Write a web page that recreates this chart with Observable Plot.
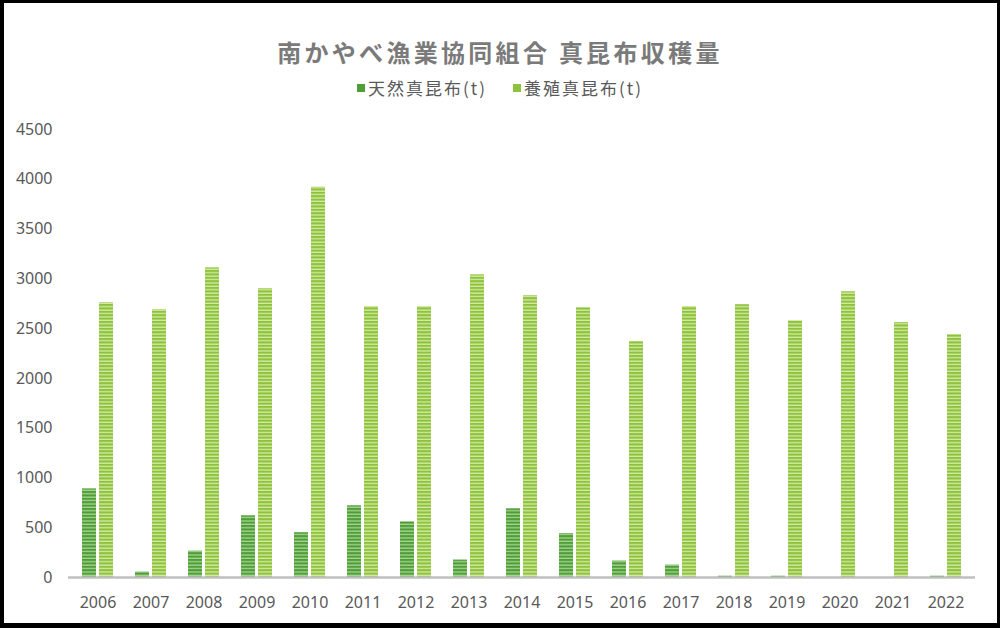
<!DOCTYPE html>
<html>
<head>
<meta charset="utf-8">
<script src="https://cdn.jsdelivr.net/npm/d3@7"></script>
<script src="https://cdn.jsdelivr.net/npm/@observablehq/plot@0.6"></script>
<style>
  html, body { margin: 0; padding: 0; background: #fff; }
  #wrap { position: relative; width: 1000px; height: 628px; background: #fff; overflow: hidden;
          font-family: "Noto Sans", "Noto Sans CJK JP", sans-serif; }
  #title { position: absolute; top: 36px; left: 0; width: 1000px; text-align: center;
           font-size: 24px; line-height: 32px; font-weight: bold; color: #7a7a7a; letter-spacing: 3.3px;
           font-family: "Noto Sans CJK JP", "Noto Sans", sans-serif; }
  #legend { position: absolute; top: 78px; left: 0; width: 1000px; display: flex; justify-content: center;
            gap: 26px; font-size: 17px; line-height: 20px; color: #595959; letter-spacing: 2px;
            font-family: "Noto Sans CJK JP", "Noto Sans", sans-serif; }
  .item { display: flex; align-items: center; }
  .sw { width: 8px; height: 8px; margin-right: 3px; }
  #chart { position: absolute; top: 100px; left: 0; }
  #frame { position: absolute; left: 0; top: 0; width: 1000px; height: 628px; box-sizing: border-box;
           border-style: solid; border-color: #000; border-width: 3px 3px 5px 4px; pointer-events: none; }
</style>
</head>
<body>
<div id="wrap">
  <div id="title">南かやべ漁業協同組合 真昆布収穫量</div>
  <div id="legend"></div>
  <div id="chart"></div>
  <div id="frame"></div>
</div>
<script>
const years = ["2006","2007","2008","2009","2010","2011","2012","2013","2014","2015","2016","2017","2018","2019","2020","2021","2022"];
const natural = [890, 55, 265, 620, 450, 720, 560, 175, 690, 440, 165, 125, 15, 15, 0, 0, 15];
const cultured = [2760, 2690, 3110, 2900, 3920, 2720, 2720, 3040, 2830, 2710, 2370, 2720, 2740, 2580, 2870, 2560, 2440];
const seriesNames = ["天然真昆布(t)", "養殖真昆布(t)"];
const seriesColors = ["#4f9d37", "#8cc23c"];
const yTicks = [0, 500, 1000, 1500, 2000, 2500, 3000, 3500, 4000, 4500];

const natData = years.map((y, i) => ({year: y, value: natural[i]}));
const culData = years.map((y, i) => ({year: y, value: cultured[i]}));

// legend
const legend = document.getElementById("legend");
seriesNames.forEach((n, i) => {
  const it = document.createElement("div");
  it.className = "item";
  it.innerHTML = `<span class="sw" style="background:${seriesColors[i]}"></span><span>${n}</span>`;
  legend.appendChild(it);
});

const chart = Plot.plot({
  width: 1000,
  height: 528,
  marginTop: 29,
  marginBottom: 51,
  marginLeft: 68,
  marginRight: 25,
  style: {fontFamily: "'Noto Sans', 'Noto Sans CJK JP', sans-serif", fontSize: "16px", color: "#595959", background: "transparent"},
  x: {domain: years, paddingInner: 0.41, paddingOuter: 0.205, label: null},
  y: {domain: [0, 4500], label: null},
  marks: [
    Plot.barY(natData, {x: "year", y: "value", fill: "url(#patNat)", insetRight: 17, insetLeft: 0}),
    Plot.barY(culData, {x: "year", y: "value", fill: "url(#patCul)", insetLeft: 17, insetRight: 0}),
    Plot.ruleY([0], {stroke: "#bfbfbf", strokeWidth: 2.5}),
    Plot.axisY({ticks: yTicks, tickSize: 0, tickPadding: 16, tickFormat: "d", label: null, fill: "#595959"}),
    Plot.axisX({tickSize: 0, tickPadding: 19, label: null, fill: "#595959"})
  ]
});

const svg = d3.select(chart);
const defs = svg.insert("defs", ":first-child");
function pat(id, dark, light) {
  const p = defs.append("pattern").attr("id", id).attr("patternUnits", "userSpaceOnUse")
    .attr("width", 10).attr("height", 3.4);
  p.append("rect").attr("width", 10).attr("height", 3.4).attr("fill", light);
  p.append("rect").attr("width", 10).attr("height", 2.1).attr("fill", dark);
}
pat("patNat", "#4f9d37", "#a6d593");
pat("patCul", "#8cc23c", "#d6eaa6");

document.getElementById("chart").appendChild(chart);
</script>
</body>
</html>
